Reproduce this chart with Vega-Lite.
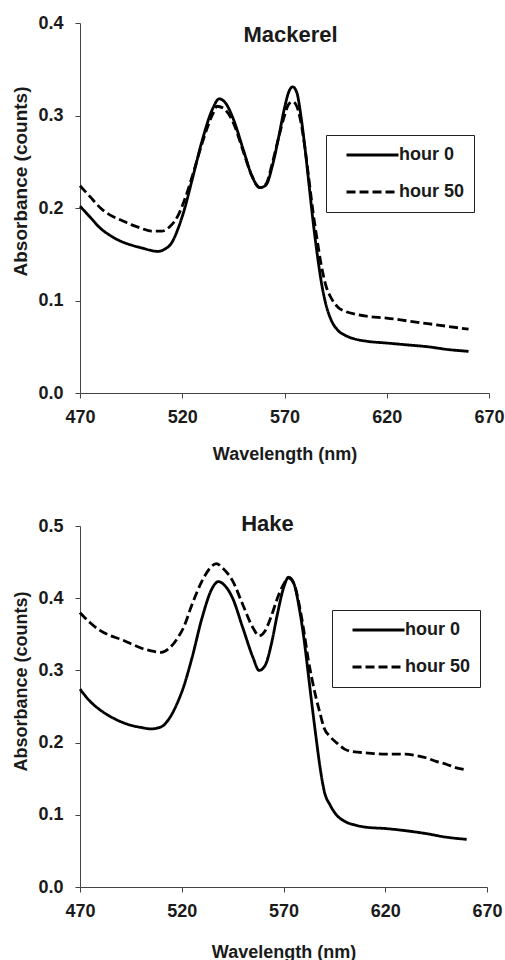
{
  "$schema": "https://vega.github.io/schema/vega-lite/v6.json",
  "padding": {"left": 11, "top": 14, "right": 0, "bottom": 0},
  "spacing": 50,
  "datasets": {
    "spectra": [
      {"fish": "Mackerel", "hour": "hour 0", "wl": 470, "abs": 0.202},
      {"fish": "Mackerel", "hour": "hour 0", "wl": 475, "abs": 0.19},
      {"fish": "Mackerel", "hour": "hour 0", "wl": 480, "abs": 0.178},
      {"fish": "Mackerel", "hour": "hour 0", "wl": 485, "abs": 0.17},
      {"fish": "Mackerel", "hour": "hour 0", "wl": 490, "abs": 0.164},
      {"fish": "Mackerel", "hour": "hour 0", "wl": 495, "abs": 0.16},
      {"fish": "Mackerel", "hour": "hour 0", "wl": 500, "abs": 0.157},
      {"fish": "Mackerel", "hour": "hour 0", "wl": 505, "abs": 0.154},
      {"fish": "Mackerel", "hour": "hour 0", "wl": 508, "abs": 0.153},
      {"fish": "Mackerel", "hour": "hour 0", "wl": 511, "abs": 0.155},
      {"fish": "Mackerel", "hour": "hour 0", "wl": 515, "abs": 0.163},
      {"fish": "Mackerel", "hour": "hour 0", "wl": 518, "abs": 0.178},
      {"fish": "Mackerel", "hour": "hour 0", "wl": 521, "abs": 0.198},
      {"fish": "Mackerel", "hour": "hour 0", "wl": 525, "abs": 0.232},
      {"fish": "Mackerel", "hour": "hour 0", "wl": 530, "abs": 0.275},
      {"fish": "Mackerel", "hour": "hour 0", "wl": 535, "abs": 0.308},
      {"fish": "Mackerel", "hour": "hour 0", "wl": 538, "abs": 0.318},
      {"fish": "Mackerel", "hour": "hour 0", "wl": 541, "abs": 0.314},
      {"fish": "Mackerel", "hour": "hour 0", "wl": 545, "abs": 0.296},
      {"fish": "Mackerel", "hour": "hour 0", "wl": 550, "abs": 0.262},
      {"fish": "Mackerel", "hour": "hour 0", "wl": 554, "abs": 0.235},
      {"fish": "Mackerel", "hour": "hour 0", "wl": 558, "abs": 0.222},
      {"fish": "Mackerel", "hour": "hour 0", "wl": 561, "abs": 0.225},
      {"fish": "Mackerel", "hour": "hour 0", "wl": 564, "abs": 0.245},
      {"fish": "Mackerel", "hour": "hour 0", "wl": 567, "abs": 0.275},
      {"fish": "Mackerel", "hour": "hour 0", "wl": 570, "abs": 0.308},
      {"fish": "Mackerel", "hour": "hour 0", "wl": 572, "abs": 0.325},
      {"fish": "Mackerel", "hour": "hour 0", "wl": 574, "abs": 0.331},
      {"fish": "Mackerel", "hour": "hour 0", "wl": 576, "abs": 0.325},
      {"fish": "Mackerel", "hour": "hour 0", "wl": 578, "abs": 0.3},
      {"fish": "Mackerel", "hour": "hour 0", "wl": 580, "abs": 0.265},
      {"fish": "Mackerel", "hour": "hour 0", "wl": 582, "abs": 0.225},
      {"fish": "Mackerel", "hour": "hour 0", "wl": 584, "abs": 0.185},
      {"fish": "Mackerel", "hour": "hour 0", "wl": 586, "abs": 0.15},
      {"fish": "Mackerel", "hour": "hour 0", "wl": 588, "abs": 0.12},
      {"fish": "Mackerel", "hour": "hour 0", "wl": 590, "abs": 0.098},
      {"fish": "Mackerel", "hour": "hour 0", "wl": 593, "abs": 0.078},
      {"fish": "Mackerel", "hour": "hour 0", "wl": 596, "abs": 0.068},
      {"fish": "Mackerel", "hour": "hour 0", "wl": 600, "abs": 0.062},
      {"fish": "Mackerel", "hour": "hour 0", "wl": 605, "abs": 0.058},
      {"fish": "Mackerel", "hour": "hour 0", "wl": 610, "abs": 0.056},
      {"fish": "Mackerel", "hour": "hour 0", "wl": 620, "abs": 0.054},
      {"fish": "Mackerel", "hour": "hour 0", "wl": 630, "abs": 0.052},
      {"fish": "Mackerel", "hour": "hour 0", "wl": 640, "abs": 0.05},
      {"fish": "Mackerel", "hour": "hour 0", "wl": 650, "abs": 0.047},
      {"fish": "Mackerel", "hour": "hour 0", "wl": 660, "abs": 0.045},
      {"fish": "Mackerel", "hour": "hour 50", "wl": 470, "abs": 0.224},
      {"fish": "Mackerel", "hour": "hour 50", "wl": 475, "abs": 0.212},
      {"fish": "Mackerel", "hour": "hour 50", "wl": 480, "abs": 0.2},
      {"fish": "Mackerel", "hour": "hour 50", "wl": 485, "abs": 0.192},
      {"fish": "Mackerel", "hour": "hour 50", "wl": 490, "abs": 0.187},
      {"fish": "Mackerel", "hour": "hour 50", "wl": 495, "abs": 0.182},
      {"fish": "Mackerel", "hour": "hour 50", "wl": 500, "abs": 0.178},
      {"fish": "Mackerel", "hour": "hour 50", "wl": 505, "abs": 0.175},
      {"fish": "Mackerel", "hour": "hour 50", "wl": 510, "abs": 0.175},
      {"fish": "Mackerel", "hour": "hour 50", "wl": 514, "abs": 0.18},
      {"fish": "Mackerel", "hour": "hour 50", "wl": 518, "abs": 0.192},
      {"fish": "Mackerel", "hour": "hour 50", "wl": 521, "abs": 0.208},
      {"fish": "Mackerel", "hour": "hour 50", "wl": 525, "abs": 0.235},
      {"fish": "Mackerel", "hour": "hour 50", "wl": 530, "abs": 0.272},
      {"fish": "Mackerel", "hour": "hour 50", "wl": 535, "abs": 0.302},
      {"fish": "Mackerel", "hour": "hour 50", "wl": 537, "abs": 0.31},
      {"fish": "Mackerel", "hour": "hour 50", "wl": 540, "abs": 0.308},
      {"fish": "Mackerel", "hour": "hour 50", "wl": 545, "abs": 0.292},
      {"fish": "Mackerel", "hour": "hour 50", "wl": 550, "abs": 0.26},
      {"fish": "Mackerel", "hour": "hour 50", "wl": 554, "abs": 0.235},
      {"fish": "Mackerel", "hour": "hour 50", "wl": 558, "abs": 0.222},
      {"fish": "Mackerel", "hour": "hour 50", "wl": 561, "abs": 0.226},
      {"fish": "Mackerel", "hour": "hour 50", "wl": 564, "abs": 0.248},
      {"fish": "Mackerel", "hour": "hour 50", "wl": 567, "abs": 0.275},
      {"fish": "Mackerel", "hour": "hour 50", "wl": 570, "abs": 0.3},
      {"fish": "Mackerel", "hour": "hour 50", "wl": 572, "abs": 0.312},
      {"fish": "Mackerel", "hour": "hour 50", "wl": 574, "abs": 0.315},
      {"fish": "Mackerel", "hour": "hour 50", "wl": 576, "abs": 0.31},
      {"fish": "Mackerel", "hour": "hour 50", "wl": 578, "abs": 0.293},
      {"fish": "Mackerel", "hour": "hour 50", "wl": 580, "abs": 0.265},
      {"fish": "Mackerel", "hour": "hour 50", "wl": 582, "abs": 0.23},
      {"fish": "Mackerel", "hour": "hour 50", "wl": 584, "abs": 0.195},
      {"fish": "Mackerel", "hour": "hour 50", "wl": 586, "abs": 0.165},
      {"fish": "Mackerel", "hour": "hour 50", "wl": 588, "abs": 0.138},
      {"fish": "Mackerel", "hour": "hour 50", "wl": 590, "abs": 0.118},
      {"fish": "Mackerel", "hour": "hour 50", "wl": 593, "abs": 0.102},
      {"fish": "Mackerel", "hour": "hour 50", "wl": 596, "abs": 0.093},
      {"fish": "Mackerel", "hour": "hour 50", "wl": 600, "abs": 0.088},
      {"fish": "Mackerel", "hour": "hour 50", "wl": 605, "abs": 0.085},
      {"fish": "Mackerel", "hour": "hour 50", "wl": 610, "abs": 0.083},
      {"fish": "Mackerel", "hour": "hour 50", "wl": 620, "abs": 0.081},
      {"fish": "Mackerel", "hour": "hour 50", "wl": 630, "abs": 0.078},
      {"fish": "Mackerel", "hour": "hour 50", "wl": 640, "abs": 0.075},
      {"fish": "Mackerel", "hour": "hour 50", "wl": 650, "abs": 0.072},
      {"fish": "Mackerel", "hour": "hour 50", "wl": 660, "abs": 0.069},
      {"fish": "Hake", "hour": "hour 0", "wl": 470, "abs": 0.274},
      {"fish": "Hake", "hour": "hour 0", "wl": 475, "abs": 0.257},
      {"fish": "Hake", "hour": "hour 0", "wl": 480, "abs": 0.245},
      {"fish": "Hake", "hour": "hour 0", "wl": 485, "abs": 0.236},
      {"fish": "Hake", "hour": "hour 0", "wl": 490, "abs": 0.229},
      {"fish": "Hake", "hour": "hour 0", "wl": 495, "abs": 0.224},
      {"fish": "Hake", "hour": "hour 0", "wl": 500, "abs": 0.221},
      {"fish": "Hake", "hour": "hour 0", "wl": 505, "abs": 0.219},
      {"fish": "Hake", "hour": "hour 0", "wl": 510, "abs": 0.222},
      {"fish": "Hake", "hour": "hour 0", "wl": 514, "abs": 0.234},
      {"fish": "Hake", "hour": "hour 0", "wl": 518, "abs": 0.256},
      {"fish": "Hake", "hour": "hour 0", "wl": 521, "abs": 0.278},
      {"fish": "Hake", "hour": "hour 0", "wl": 525, "abs": 0.317},
      {"fish": "Hake", "hour": "hour 0", "wl": 530, "abs": 0.373},
      {"fish": "Hake", "hour": "hour 0", "wl": 535, "abs": 0.414},
      {"fish": "Hake", "hour": "hour 0", "wl": 538, "abs": 0.423},
      {"fish": "Hake", "hour": "hour 0", "wl": 541, "abs": 0.418},
      {"fish": "Hake", "hour": "hour 0", "wl": 545, "abs": 0.4},
      {"fish": "Hake", "hour": "hour 0", "wl": 550, "abs": 0.359},
      {"fish": "Hake", "hour": "hour 0", "wl": 555, "abs": 0.318},
      {"fish": "Hake", "hour": "hour 0", "wl": 558, "abs": 0.3},
      {"fish": "Hake", "hour": "hour 0", "wl": 561, "abs": 0.307},
      {"fish": "Hake", "hour": "hour 0", "wl": 564, "abs": 0.336},
      {"fish": "Hake", "hour": "hour 0", "wl": 567, "abs": 0.378},
      {"fish": "Hake", "hour": "hour 0", "wl": 570, "abs": 0.414},
      {"fish": "Hake", "hour": "hour 0", "wl": 572.5, "abs": 0.429},
      {"fish": "Hake", "hour": "hour 0", "wl": 575, "abs": 0.421},
      {"fish": "Hake", "hour": "hour 0", "wl": 578, "abs": 0.382},
      {"fish": "Hake", "hour": "hour 0", "wl": 580, "abs": 0.345},
      {"fish": "Hake", "hour": "hour 0", "wl": 582, "abs": 0.299},
      {"fish": "Hake", "hour": "hour 0", "wl": 584, "abs": 0.252},
      {"fish": "Hake", "hour": "hour 0", "wl": 586, "abs": 0.207},
      {"fish": "Hake", "hour": "hour 0", "wl": 588, "abs": 0.165},
      {"fish": "Hake", "hour": "hour 0", "wl": 590, "abs": 0.133},
      {"fish": "Hake", "hour": "hour 0", "wl": 593, "abs": 0.113},
      {"fish": "Hake", "hour": "hour 0", "wl": 596, "abs": 0.1},
      {"fish": "Hake", "hour": "hour 0", "wl": 600, "abs": 0.091},
      {"fish": "Hake", "hour": "hour 0", "wl": 605, "abs": 0.086},
      {"fish": "Hake", "hour": "hour 0", "wl": 610, "abs": 0.083},
      {"fish": "Hake", "hour": "hour 0", "wl": 620, "abs": 0.081},
      {"fish": "Hake", "hour": "hour 0", "wl": 630, "abs": 0.078},
      {"fish": "Hake", "hour": "hour 0", "wl": 640, "abs": 0.074},
      {"fish": "Hake", "hour": "hour 0", "wl": 650, "abs": 0.069},
      {"fish": "Hake", "hour": "hour 0", "wl": 660, "abs": 0.066},
      {"fish": "Hake", "hour": "hour 50", "wl": 470, "abs": 0.38},
      {"fish": "Hake", "hour": "hour 50", "wl": 475, "abs": 0.366},
      {"fish": "Hake", "hour": "hour 50", "wl": 480, "abs": 0.355},
      {"fish": "Hake", "hour": "hour 50", "wl": 485, "abs": 0.348},
      {"fish": "Hake", "hour": "hour 50", "wl": 490, "abs": 0.343},
      {"fish": "Hake", "hour": "hour 50", "wl": 495, "abs": 0.337},
      {"fish": "Hake", "hour": "hour 50", "wl": 500, "abs": 0.331},
      {"fish": "Hake", "hour": "hour 50", "wl": 505, "abs": 0.327},
      {"fish": "Hake", "hour": "hour 50", "wl": 510, "abs": 0.325},
      {"fish": "Hake", "hour": "hour 50", "wl": 514, "abs": 0.331},
      {"fish": "Hake", "hour": "hour 50", "wl": 518, "abs": 0.345},
      {"fish": "Hake", "hour": "hour 50", "wl": 521, "abs": 0.36},
      {"fish": "Hake", "hour": "hour 50", "wl": 525, "abs": 0.391},
      {"fish": "Hake", "hour": "hour 50", "wl": 530, "abs": 0.424},
      {"fish": "Hake", "hour": "hour 50", "wl": 534, "abs": 0.442},
      {"fish": "Hake", "hour": "hour 50", "wl": 537, "abs": 0.448},
      {"fish": "Hake", "hour": "hour 50", "wl": 540, "abs": 0.442},
      {"fish": "Hake", "hour": "hour 50", "wl": 545, "abs": 0.424},
      {"fish": "Hake", "hour": "hour 50", "wl": 550, "abs": 0.391},
      {"fish": "Hake", "hour": "hour 50", "wl": 555, "abs": 0.359},
      {"fish": "Hake", "hour": "hour 50", "wl": 558, "abs": 0.348},
      {"fish": "Hake", "hour": "hour 50", "wl": 561, "abs": 0.355},
      {"fish": "Hake", "hour": "hour 50", "wl": 564, "abs": 0.375},
      {"fish": "Hake", "hour": "hour 50", "wl": 567, "abs": 0.4},
      {"fish": "Hake", "hour": "hour 50", "wl": 570, "abs": 0.419},
      {"fish": "Hake", "hour": "hour 50", "wl": 572.5, "abs": 0.428},
      {"fish": "Hake", "hour": "hour 50", "wl": 575, "abs": 0.421},
      {"fish": "Hake", "hour": "hour 50", "wl": 578, "abs": 0.387},
      {"fish": "Hake", "hour": "hour 50", "wl": 580, "abs": 0.355},
      {"fish": "Hake", "hour": "hour 50", "wl": 582, "abs": 0.318},
      {"fish": "Hake", "hour": "hour 50", "wl": 584, "abs": 0.288},
      {"fish": "Hake", "hour": "hour 50", "wl": 586, "abs": 0.262},
      {"fish": "Hake", "hour": "hour 50", "wl": 588, "abs": 0.24},
      {"fish": "Hake", "hour": "hour 50", "wl": 590, "abs": 0.22},
      {"fish": "Hake", "hour": "hour 50", "wl": 593, "abs": 0.208},
      {"fish": "Hake", "hour": "hour 50", "wl": 596, "abs": 0.2},
      {"fish": "Hake", "hour": "hour 50", "wl": 600, "abs": 0.191},
      {"fish": "Hake", "hour": "hour 50", "wl": 605, "abs": 0.187},
      {"fish": "Hake", "hour": "hour 50", "wl": 610, "abs": 0.186},
      {"fish": "Hake", "hour": "hour 50", "wl": 620, "abs": 0.184},
      {"fish": "Hake", "hour": "hour 50", "wl": 630, "abs": 0.184},
      {"fish": "Hake", "hour": "hour 50", "wl": 635, "abs": 0.182},
      {"fish": "Hake", "hour": "hour 50", "wl": 640, "abs": 0.179},
      {"fish": "Hake", "hour": "hour 50", "wl": 645, "abs": 0.174},
      {"fish": "Hake", "hour": "hour 50", "wl": 650, "abs": 0.17},
      {"fish": "Hake", "hour": "hour 50", "wl": 655, "abs": 0.165},
      {"fish": "Hake", "hour": "hour 50", "wl": 660, "abs": 0.162}
    ]
  },
  "resolve": {"scale": {"strokeDash": "independent"}, "legend": {"strokeDash": "independent"}},
  "vconcat": [
    {
      "width": 409,
      "height": 370,
      "title": {"text": "Mackerel", "frame": "group", "anchor": "middle", "baseline": "alphabetic", "offset": -50, "dx": 6},
      "data": {"name": "spectra"},
      "transform": [{"filter": "datum.fish === 'Mackerel'"}],
      "mark": {"type": "line", "color": "black", "strokeWidth": 2.8, "interpolate": "monotone"},
      "encoding": {
        "x": {"field": "wl", "type": "quantitative", "title": "Wavelength (nm)",
              "scale": {"domain": [470, 670], "nice": false},
              "axis": {"values": [470, 520, 570, 620, 670], "titlePadding": 19}},
        "y": {"field": "abs", "type": "quantitative", "title": "Absorbance  (counts)",
              "scale": {"domain": [0, 0.4], "nice": false},
              "axis": {"values": [0, 0.1, 0.2, 0.3, 0.4], "format": ".1f", "titleY": 158, "titleFontSize": 19}},
        "strokeDash": {"field": "hour", "type": "nominal",
              "scale": {"domain": ["hour 0", "hour 50"], "range": [[1, 0], [9, 4]]},
              "legend": {"orient": "none", "legendX": 246, "legendY": 112}}
      }
    },
    {
      "width": 407,
      "height": 361,
      "title": {"text": "Hake", "frame": "group", "anchor": "middle", "baseline": "alphabetic", "offset": -36, "dx": -16},
      "data": {"name": "spectra"},
      "transform": [{"filter": "datum.fish === 'Hake'"}],
      "mark": {"type": "line", "color": "black", "strokeWidth": 2.8, "interpolate": "monotone"},
      "encoding": {
        "x": {"field": "wl", "type": "quantitative", "title": "Wavelength (nm)",
              "scale": {"domain": [470, 670], "nice": false},
              "axis": {"values": [470, 520, 570, 620, 670], "titlePadding": 23}},
        "y": {"field": "abs", "type": "quantitative", "title": "Absorbance  (counts)",
              "scale": {"domain": [0, 0.5], "nice": false},
              "axis": {"values": [0, 0.1, 0.2, 0.3, 0.4, 0.5], "format": ".1f", "titleY": 155}},
        "strokeDash": {"field": "hour", "type": "nominal",
              "scale": {"domain": ["hour 0", "hour 50"], "range": [[1, 0], [9, 4]]},
              "legend": {"orient": "none", "legendX": 252, "legendY": 84}}
      }
    }
  ],
  "config": {
    "view": {"stroke": null},
    "title": {"font": "Liberation Sans", "fontWeight": "bold", "fontSize": 22, "color": "#1a1a1a"},
    "axis": {
      "grid": false,
      "labelFont": "Liberation Sans", "labelFontWeight": "bold", "labelFontSize": 18, "labelColor": "#1a1a1a",
      "titleFont": "Liberation Sans", "titleFontWeight": "bold", "titleFontSize": 18, "titleColor": "#1a1a1a",
      "domainColor": "#444", "domainWidth": 1, "tickColor": "#444", "tickSize": 5, "tickWidth": 1
    },
    "axisX": {"labelPadding": 10, "labelFlush": false},
    "axisY": {"titlePadding": 7, "labelPadding": 12},
    "legend": {
      "title": null,
      "strokeColor": "#222", "fillColor": "white", "padding": 9,
      "clipHeight": 22, "rowPadding": 15,
      "symbolType": "stroke", "symbolSize": 2700, "symbolStrokeWidth": 2.8, "symbolStrokeColor": "black",
      "symbolOffset": 10,
      "labelFont": "Liberation Sans", "labelFontWeight": "bold", "labelFontSize": 18, "labelColor": "#1a1a1a",
      "labelOffset": -1
    }
  }
}
